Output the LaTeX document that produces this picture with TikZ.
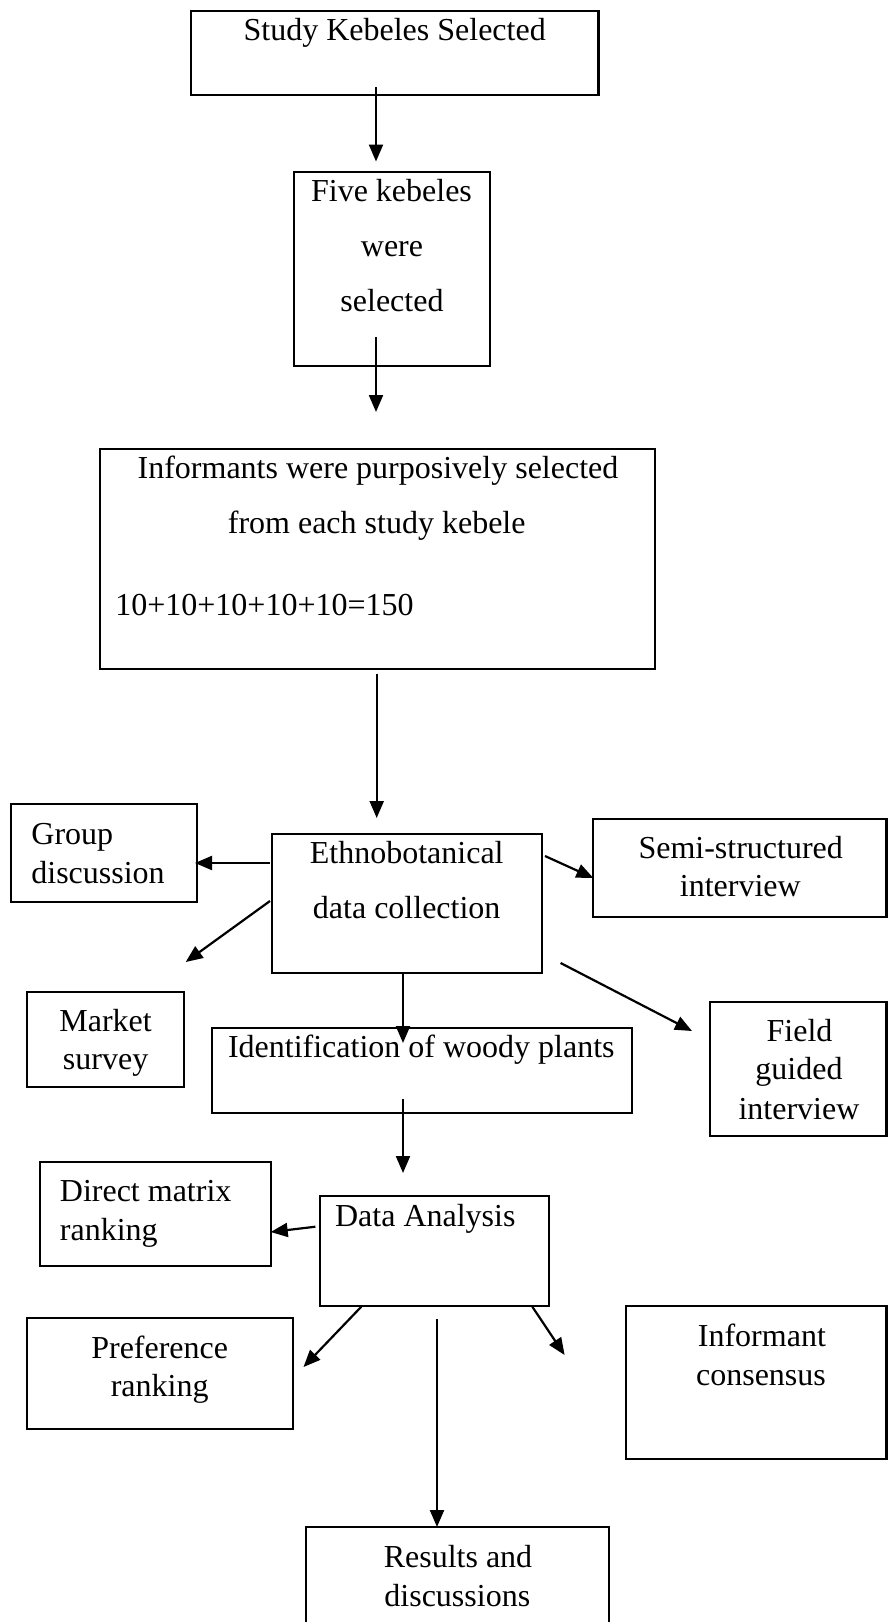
\documentclass[tikz,border=0pt]{standalone}
\usepackage{fontspec}
\setmainfont{Liberation Serif}
\usetikzlibrary{arrows.meta,fit}
\tikzset{
  box/.style={draw=black,line width=1.2pt,inner sep=0pt},
  txt/.style={inner sep=0pt,font=\fontsize{16pt}{19pt}\selectfont},
  arr/.style={line width=1.1pt,-{Triangle[length=8.5pt,width=7pt]}}
}
\begin{document}
\begin{tikzpicture}[x=0.5pt,y=-0.5pt]
\clip (0,0) rectangle (888,1622);
\fill[white] (0,0) rectangle (888,1622);
% boxes
\node[box,fit={(191,10.7) (598.5,95)}] (b1) {};
\node[box,fit={(294,172) (490,366)}] (b2) {};
\node[box,fit={(100,449) (655,669)}] (b3) {};
\node[box,fit={(272,834) (542,973)}] (ethno) {};
\node[box,fit={(11,804) (197,902)}] (group) {};
\node[box,fit={(593,819) (886.5,917)}] (semi) {};
\node[box,fit={(27,992) (184,1087)}] (market) {};
\node[box,fit={(212,1028) (632,1113)}] (ident) {};
\node[box,fit={(710,1002) (886.5,1136)}] (field) {};
\node[box,fit={(40,1162) (271,1266)}] (direct) {};
\node[box,fit={(320,1196) (549,1306)}] (da) {};
\node[box,fit={(27,1318) (293,1429)}] (pref) {};
\node[box,fit={(626,1306) (886.5,1459)}] (inf) {};
\node[box,fit={(306,1527) (609,1660)}] (res) {};
% texts
\node[txt,anchor=base] (t1) at (394.7,40.7) {Study Kebeles Selected};
\node[txt,anchor=base] (t2a) at (391.5,201.7) {Five kebeles};
\node[txt,anchor=base] (t2b) at (392,256.7) {were};
\node[txt,anchor=base] (t2c) at (392,311) {selected};
\node[txt,anchor=base] (t3a) at (378,478) {Informants were purposively selected};
\node[txt,anchor=base] (t3b) at (376.7,533) {from each study kebele};
\node[txt,anchor=base west] (t3c) at (115,615) {10+10+10+10+10=150};
\node[txt,anchor=base] (te1) at (406.7,863.3) {Ethnobotanical};
\node[txt,anchor=base] (te2) at (406.7,918.3) {data collection};
\node[txt,anchor=base west] (tg1) at (31,844.3) {Group};
\node[txt,anchor=base west] (tg2) at (31,883.3) {discussion};
\node[txt,anchor=base] (ts1) at (740.7,858.3) {Semi-structured};
\node[txt,anchor=base] (ts2) at (740.3,896.7) {interview};
\node[txt,anchor=base] (tm1) at (105.6,1031.7) {Market};
\node[txt,anchor=base] (tm2) at (105.6,1069) {survey};
\node[txt,anchor=base] (ti) at (421.3,1057.7) {Identification of woody plants};
\node[txt,anchor=base] (tf1) at (799.5,1041) {Field};
\node[txt,anchor=base] (tf2) at (799,1079.3) {guided};
\node[txt,anchor=base] (tf3) at (799,1119.3) {interview};
\node[txt,anchor=base west] (td1) at (59.5,1201.7) {Direct matrix};
\node[txt,anchor=base west] (td2) at (59.5,1240) {ranking};
\node[txt,anchor=base west] (tda) at (334.7,1226) {Data Analysis};
\node[txt,anchor=base] (tp1) at (159.7,1358.3) {Preference};
\node[txt,anchor=base] (tp2) at (159.7,1396.7) {ranking};
\node[txt,anchor=base] (tn1) at (761.9,1346.7) {Informant};
\node[txt,anchor=base] (tn2) at (761,1385.7) {consensus};
\node[txt,anchor=base] (tr1) at (458,1567.7) {Results and};
\node[txt,anchor=base] (tr2) at (457.3,1606.7) {discussions};
% connector end points
\coordinate (a1s) at (376,87);      \coordinate (a1e) at (376,161.5);
\coordinate (a2s) at (376,337);     \coordinate (a2e) at (376,412);
\coordinate (a3s) at (376.7,673.5); \coordinate (a3e) at (376.7,818);
\coordinate (a4s) at (270,863);     \coordinate (a4e) at (195,863);
\coordinate (a5s) at (270,901);     \coordinate (a5e) at (185.7,962);
\coordinate (a6s) at (545,856);     \coordinate (a6e) at (593.4,878);
\coordinate (a7s) at (560.6,963);   \coordinate (a7e) at (692,1031);
\coordinate (a8s) at (403,973);     \coordinate (a8e) at (403,1043);
\coordinate (a9s) at (403,1099);    \coordinate (a9e) at (403,1173);
\coordinate (a10s) at (315.4,1226.7); \coordinate (a10e) at (270.7,1232);
\coordinate (a11s) at (361.3,1306.7); \coordinate (a11e) at (303.5,1367);
\coordinate (a12s) at (532.3,1306.7); \coordinate (a12e) at (564.6,1355);
\coordinate (a13s) at (437,1319);   \coordinate (a13e) at (437,1527);
% connectors
\draw[arr] (a1s) -- (a1e);
\draw[arr] (a2s) -- (a2e);
\draw[arr] (a3s) -- (a3e);
\draw[arr] (a4s) -- (a4e);
\draw[arr] (a5s) -- (a5e);
\draw[arr] (a6s) -- (a6e);
\draw[arr] (a7s) -- (a7e);
\draw[arr] (a8s) -- (a8e);
\draw[arr] (a9s) -- (a9e);
\draw[arr] (a10s) -- (a10e);
\draw[arr] (a11s) -- (a11e);
\draw[arr] (a12s) -- (a12e);
\draw[arr] (a13s) -- (a13e);
\end{tikzpicture}
\end{document}
